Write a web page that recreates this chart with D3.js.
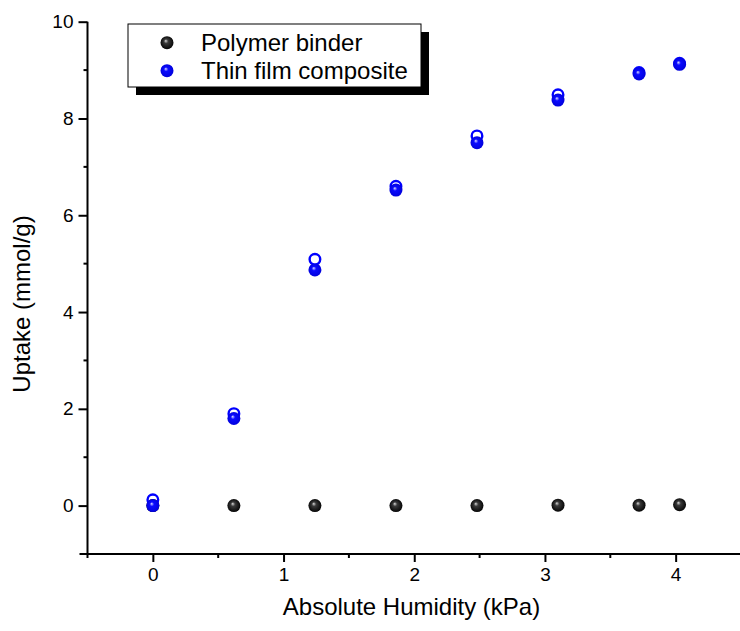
<!DOCTYPE html>
<html lang="en">
<head>
<meta charset="utf-8">
<script src="https://d3js.org/d3.v7.min.js"></script>
<style>
  body { margin: 0; background: #fff; }
  svg { display: block; }
  text { font-family: Arial, "Liberation Sans", sans-serif; fill: #000; }
</style>
</head>
<body>
<script>
  // humidity steps (kPa)
  const humidity = [0, 0.62, 1.24, 1.86, 2.48, 3.10, 3.72, 4.03];
  // polymer binder uptake (mmol/g)
  const binderUptake = [0, 0.0, 0.0, 0.0, 0.0, 0.01, 0.01, 0.02];
  // thin film composite, two runs (ring markers and ball markers)
  const filmRunA = [0.12, 1.9, 5.09, 6.6, 7.64, 8.49, 8.95, 9.14];
  const filmRunB = [0.0, 1.8, 4.87, 6.52, 7.5, 8.38, 8.92, 9.12];

  const xTicks = [0, 1, 2, 3, 4];
  const yTicks = [0, 2, 4, 6, 8, 10];
  const legendLabels = ["Polymer binder", "Thin film composite"];

  const W = 740, H = 631;
  const x0 = 87.5, x1 = 741, y0 = 554, y1 = 21.7;

  const svg = d3.select("body").append("svg")
      .attr("width", W)
      .attr("height", H);

  const xScale = d3.scaleLinear().domain([-0.5, 4.5]).range([x0, x1]);
  const yScale = d3.scaleLinear().domain([-1, 10]).range([y0, y1]);

  // shaded ball gradients
  const defs = svg.append("defs");
  function ball(id, hi, mid, edge) {
    const g = defs.append("radialGradient")
        .attr("id", id)
        .attr("cx", "50%").attr("cy", "50%").attr("r", "55%")
        .attr("fx", "40%").attr("fy", "35%");
    g.append("stop").attr("offset", "0%").attr("stop-color", hi);
    g.append("stop").attr("offset", "30%").attr("stop-color", mid);
    g.append("stop").attr("offset", "100%").attr("stop-color", edge);
  }
  ball("ballBlack", "#d8d8d8", "#3a3a3a", "#000");
  ball("ballBlue", "#dcdcff", "#0a0aff", "#0000d8");

  // minor ticks
  const minorX = d3.range(-0.5, 4.51, 0.5).filter(v => !xTicks.includes(v));
  const minorY = d3.range(-1, 10.01, 1).filter(v => !yTicks.includes(v));

  const xAxis = d3.axisBottom(xScale).tickValues(xTicks).tickSize(8).tickPadding(6).tickFormat(d3.format("d"));
  const yAxis = d3.axisLeft(yScale).tickValues(yTicks).tickSize(9).tickPadding(5).tickFormat(d3.format("d"));

  const gx = svg.append("g").attr("transform", "translate(0," + y0 + ")").call(xAxis);
  gx.selectAll("g.minor").data(minorX).enter().append("line")
      .attr("x1", d => xScale(d)).attr("x2", d => xScale(d))
      .attr("y1", 0).attr("y2", 4).attr("stroke", "#000").attr("stroke-width", 2);

  const gy = svg.append("g").attr("transform", "translate(" + x0 + ",0)").call(yAxis);
  gy.selectAll("g.minor").data(minorY).enter().append("line")
      .attr("y1", d => yScale(d)).attr("y2", d => yScale(d))
      .attr("x1", 0).attr("x2", -4).attr("stroke", "#000").attr("stroke-width", 2);

  [gx, gy].forEach(g => {
    g.select(".domain").attr("stroke-width", 2);
    g.selectAll(".tick line").attr("stroke-width", 2);
    g.selectAll(".tick text").style("font-size", "19px");
    g.attr("font-family", null).attr("font-size", null);
  });
  gx.select(".domain").attr("d", "M" + (x0 - 8) + ",0H" + x1);
  gy.select(".domain").attr("d", "M0," + y1 + "V" + y0);

  // axis titles
  svg.append("text")
      .attr("x", (283 + 540) / 2).attr("y", 615)
      .attr("text-anchor", "middle")
      .style("font-size", "24px")
      .text("Absolute Humidity (kPa)");
  svg.append("text")
      .attr("transform", "translate(30,304) rotate(-90)")
      .attr("text-anchor", "middle")
      .style("font-size", "24px")
      .text("Uptake (mmol/g)");

  const r = 6.5;
  const plot = svg.append("g");

  plot.selectAll("circle.binder").data(humidity).enter().append("circle")
      .attr("class", "binder")
      .attr("cx", d => xScale(d))
      .attr("cy", (d, i) => yScale(binderUptake[i]))
      .attr("r", r)
      .attr("fill", "url(#ballBlack)");

  plot.selectAll("circle.runA").data(humidity).enter().append("circle")
      .attr("class", "runA")
      .attr("cx", d => xScale(d))
      .attr("cy", (d, i) => yScale(filmRunA[i]))
      .attr("r", r - 1.2)
      .attr("fill", "none")
      .attr("stroke", "#0000ff")
      .attr("stroke-width", 2.4);

  plot.selectAll("circle.runB").data(humidity).enter().append("circle")
      .attr("class", "runB")
      .attr("cx", d => xScale(d))
      .attr("cy", (d, i) => yScale(filmRunB[i]))
      .attr("r", r)
      .attr("fill", "url(#ballBlue)");

  // legend with drop shadow
  const lg = svg.append("g");
  lg.append("rect").attr("x", 136).attr("y", 32).attr("width", 293).attr("height", 63).attr("fill", "#000");
  lg.append("rect").attr("x", 128).attr("y", 24).attr("width", 293).attr("height", 63)
      .attr("fill", "#fff").attr("stroke", "#000").attr("stroke-width", 1);
  const fills = ["url(#ballBlack)", "url(#ballBlue)"];
  legendLabels.forEach((t, i) => {
    const yy = 42.7 + i * 28;
    lg.append("circle").attr("cx", 167).attr("cy", yy).attr("r", r).attr("fill", fills[i]);
    lg.append("text").attr("x", 201).attr("y", yy + 8.5).style("font-size", "24px").text(t);
  });
</script>
</body>
</html>
